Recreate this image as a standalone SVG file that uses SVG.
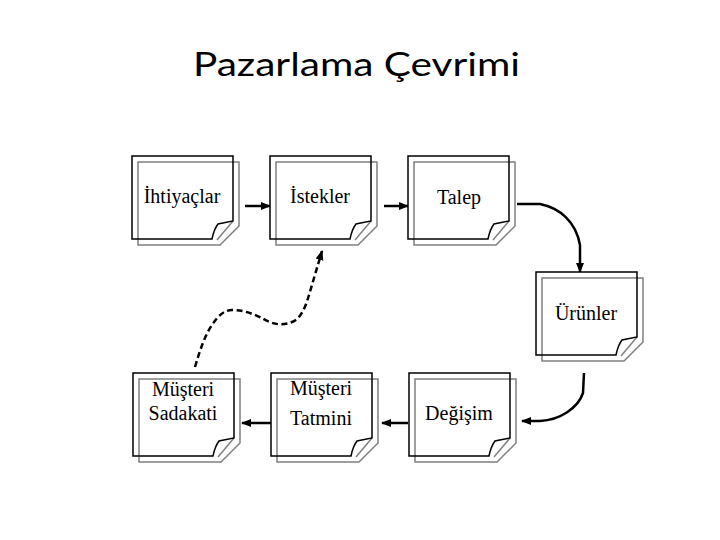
<svg xmlns="http://www.w3.org/2000/svg" xmlns:xlink="http://www.w3.org/1999/xlink" width="720" height="540" viewBox="0 0 720 540">
<style>
.lbl{font-family:"Liberation Serif","Times New Roman",serif;font-size:20px;fill:#000;text-anchor:middle}
.title{font-family:Lato,"Open Sans","Liberation Sans",sans-serif;font-size:32px;fill:#000;text-anchor:middle}
.back{fill:none;stroke:#808080;stroke-width:1.5}
.front{fill:none;stroke:#000;stroke-width:1.5}
.conn{fill:none;stroke:#000;stroke-width:2.5}
.dash{stroke-dasharray:6 3.5}
</style>
<defs>
<marker id="ah" markerUnits="userSpaceOnUse" markerWidth="10" markerHeight="10" viewBox="0 0 10 10" refX="9" refY="5" orient="auto">
<path d="M0,1 L10,5 L0,9 Z" fill="#000"/>
</marker>
<g id="note">
<rect x="0" y="0" width="107" height="89" fill="#fff" stroke="none"/>
<path class="back" d="M6,6 H107 V70 L88,89 H6 Z"/>
<path class="back" d="M101,65 L85,84"/>
<path class="front" d="M0,0 H101 V65 L86,68 C83,72 81,78 80,83 H0 Z"/>
</g>
</defs>
<rect width="720" height="540" fill="#fff"/>
<text class="title" x="356.5" y="76" textLength="327" lengthAdjust="spacingAndGlyphs">Pazarlama Çevrimi</text>
<g id="connectors">
<path class="conn" d="M245,206 H270" marker-end="url(#ah)"/>
<path class="conn" d="M384,206 H408" marker-end="url(#ah)"/>
<path class="conn" d="M517,204 H540 C560,208 576,222 580,245 L580,272" marker-end="url(#ah)"/>
<path class="conn" d="M584,373 L583,393 C578,408 560,420 540,421 L522,421" marker-end="url(#ah)"/>
<path class="conn" d="M408,423 H382" marker-end="url(#ah)"/>
<path class="conn" d="M271,423 H242" marker-end="url(#ah)"/>
<path class="conn dash" d="M195,367 C200,350 205,335 212,325 C218,316 224,310 232,310 C245,310 255,315 262,318 C270,323 280,327 292,322 C302,318 306,305 309,295 L322,251" marker-end="url(#ah)"/>
</g>
<g id="ihtiyaclar"><use xlink:href="#note" href="#note" x="132" y="156"/><text class="lbl" x="182" y="203">İhtiyaçlar</text></g>
<g id="istekler"><use xlink:href="#note" href="#note" x="270" y="156"/><text class="lbl" x="320" y="203">İstekler</text></g>
<g id="talep"><use xlink:href="#note" href="#note" x="408" y="156"/><text class="lbl" x="459" y="204">Talep</text></g>
<g id="urunler"><use xlink:href="#note" href="#note" x="536" y="272"/><text class="lbl" x="586" y="320">Ürünler</text></g>
<g id="musteri-sadakati"><use xlink:href="#note" href="#note" x="133" y="373"/><text class="lbl" x="183" y="396">Müşteri</text><text class="lbl" x="183" y="420">Sadakati</text></g>
<g id="musteri-tatmini"><use xlink:href="#note" href="#note" x="271" y="373"/><text class="lbl" x="321" y="395">Müşteri</text><text class="lbl" x="321" y="425">Tatmini</text></g>
<g id="degisim"><use xlink:href="#note" href="#note" x="409" y="373"/><text class="lbl" x="459" y="420">Değişim</text></g>
</svg>
